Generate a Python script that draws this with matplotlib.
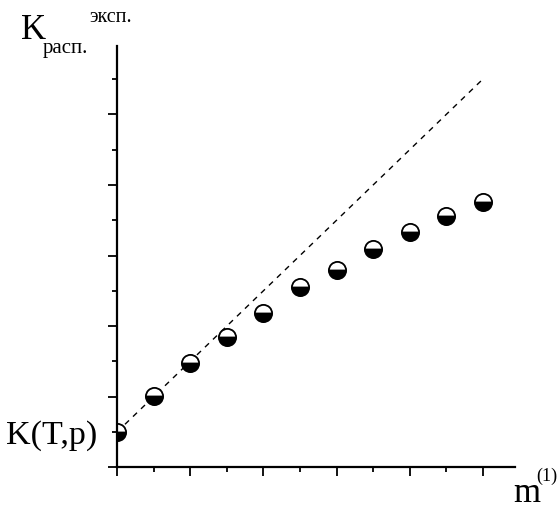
import matplotlib
matplotlib.use('Agg')
import matplotlib.pyplot as plt
from matplotlib.ticker import MultipleLocator, NullFormatter

# -- DATA --
m_values = [0, 1, 2, 3, 4, 5, 6, 7, 8, 9, 10]
k_exp = [1.0, 2.03, 2.95, 3.68, 4.36, 5.10, 5.60, 6.18, 6.67, 7.13, 7.52]
ideal_x = [0, 10]
ideal_y = [1.0, 11.0]

W, H = 558, 510
plt.rcParams['font.family'] = ['Liberation Serif', 'DejaVu Serif']

fig = plt.figure(figsize=(W / 100, H / 100), dpi=100)

# axes box in pixels: origin at (117, 468), x unit 36.6 px, y unit 35.3 px
x0, y0 = 117, 468.3
xmax, ymax = 10.87, 11.93
ax = fig.add_axes([x0 / W, (H - y0) / H, 36.6 * xmax / W, 35.3 * ymax / H])
ax.set_xlim(0, xmax)
ax.set_ylim(0, ymax)

# dashed ideal line and half-filled markers
ax.plot(ideal_x, ideal_y, color='black', linestyle=(0, (4, 4)), linewidth=1.0)
ax.plot(m_values, k_exp, linestyle='none', marker='o', markersize=12.4,
        fillstyle='bottom', markerfacecolor='black', markerfacecoloralt='white',
        markeredgecolor='black', markeredgewidth=1.3, zorder=3)

# -- AXES STYLE --
for side in ['top', 'right']:
    ax.spines[side].set_visible(False)
for side in ['left', 'bottom']:
    ax.spines[side].set_linewidth(1.6)
    ax.spines[side].set_zorder(4)

ax.xaxis.set_major_locator(MultipleLocator(2))
ax.xaxis.set_minor_locator(MultipleLocator(1))
ax.yaxis.set_major_locator(MultipleLocator(2))
ax.yaxis.set_minor_locator(MultipleLocator(1))
ax.xaxis.set_major_formatter(NullFormatter())
ax.yaxis.set_major_formatter(NullFormatter())
ax.tick_params(which='major', direction='out', length=6.5, width=1.3)
ax.tick_params(which='minor', direction='out', length=3.5, width=1.3)

# -- LABELS --
def px(x, y):
    return x / W, 1 - y / H

fig.text(*px(21, 39), 'K', fontsize=25, va='baseline', ha='left')
fig.text(*px(43, 53), 'расп.', fontsize=15, va='baseline', ha='left')
fig.text(*px(89, 21.5), 'эксп.', fontsize=14.5, va='baseline', ha='left')
fig.text(*px(6, 444), 'K(T,p)', fontsize=24.5, va='baseline', ha='left')
fig.text(*px(513, 502), 'm', fontsize=25, va='baseline', ha='left')
fig.text(*px(557, 481), '(1)', fontsize=13, va='baseline', ha='right')

fig.savefig('out.png', dpi=100)
plt.close(fig)
